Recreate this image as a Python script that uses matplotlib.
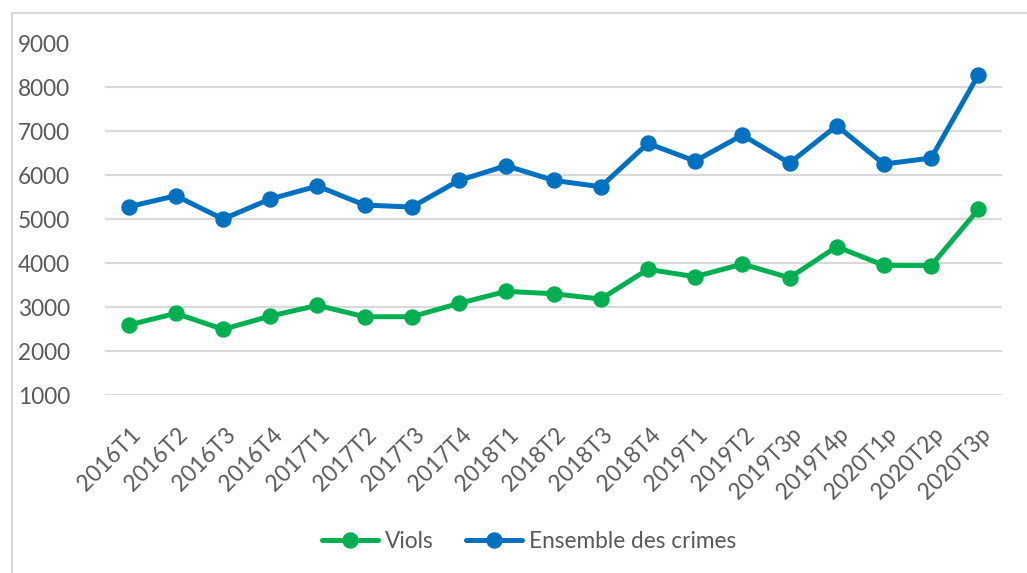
import matplotlib
matplotlib.use("Agg")
import matplotlib.pyplot as plt
import matplotlib.transforms as mtransforms
from matplotlib.patches import Rectangle

categories = ["2016T1", "2016T2", "2016T3", "2016T4", "2017T1", "2017T2", "2017T3",
              "2017T4", "2018T1", "2018T2", "2018T3", "2018T4", "2019T1", "2019T2",
              "2019T3p", "2019T4p", "2020T1p", "2020T2p", "2020T3p"]
viols = [2593, 2858, 2494, 2797, 3040, 2782, 2782, 3086, 3359, 3305, 3184, 3860,
         3692, 3980, 3669, 4375, 3950, 3945, 5225]
ensemble = [5284, 5535, 5005, 5460, 5755, 5323, 5278, 5885, 6218, 5885, 5740, 6727,
            6324, 6916, 6279, 7128, 6256, 6393, 8288]
yticks = [1000, 2000, 3000, 4000, 5000, 6000, 7000, 8000, 9000]

plt.rcParams['font.family'] = ['Lato', 'DejaVu Sans']
TXT = '#595959'
GREEN = '#00B050'
BLUE = '#0070C0'
FS = 16.3

fig = plt.figure(figsize=(10.27, 5.73), dpi=100)
# chart frame
fig.patches.append(Rectangle((11.5 / 1027, -0.05), 1.2, 1 - 12.5 / 573 + 0.05,
                             transform=fig.transFigure, fill=False,
                             edgecolor='#D9D9D9', linewidth=1.5))

ax = fig.add_axes([105 / 1027, 1 - 395 / 573, (1002 - 105) / 1027, (395 - 43.5) / 573])
x = list(range(len(categories)))
ax.plot(x, viols, color=GREEN, lw=3.6, marker='o', ms=10.8, label='Viols',
        solid_capstyle='round', solid_joinstyle='round')
ax.plot(x, ensemble, color=BLUE, lw=3.6, marker='o', ms=10.8, label='Ensemble des crimes',
        solid_capstyle='round', solid_joinstyle='round')

ax.set_xlim(-0.5, len(categories) - 0.5)
ax.set_ylim(1000, 9000)
ax.set_yticks(yticks)
ax.set_yticklabels([str(v) for v in yticks], fontsize=FS, color=TXT)
ax.grid(axis='y', color='#D9D9D9', lw=1.5)
ax.set_axisbelow(True)
for s in ax.spines.values():
    s.set_visible(False)
ax.tick_params(axis='y', length=0, pad=25)
ax.tick_params(axis='x', length=0, pad=26)
ax.set_xticks(x)
ax.set_xticklabels(categories, fontsize=FS, color=TXT, rotation=45,
                   ha='right', va='center', rotation_mode='anchor')
off = mtransforms.ScaledTranslation(9 / 100, 0, fig.dpi_scale_trans)
for lab in ax.get_xticklabels():
    lab.set_transform(lab.get_transform() + off)

leg = fig.legend(loc='center', bbox_to_anchor=(529 / 1027, 1 - 541 / 573), ncol=2,
                 frameon=False, fontsize=FS, handlelength=2.5, handletextpad=0.3,
                 columnspacing=1.4, markerscale=1.0)
for t in leg.get_texts():
    t.set_color(TXT)

fig.savefig('out.png', dpi=100)
